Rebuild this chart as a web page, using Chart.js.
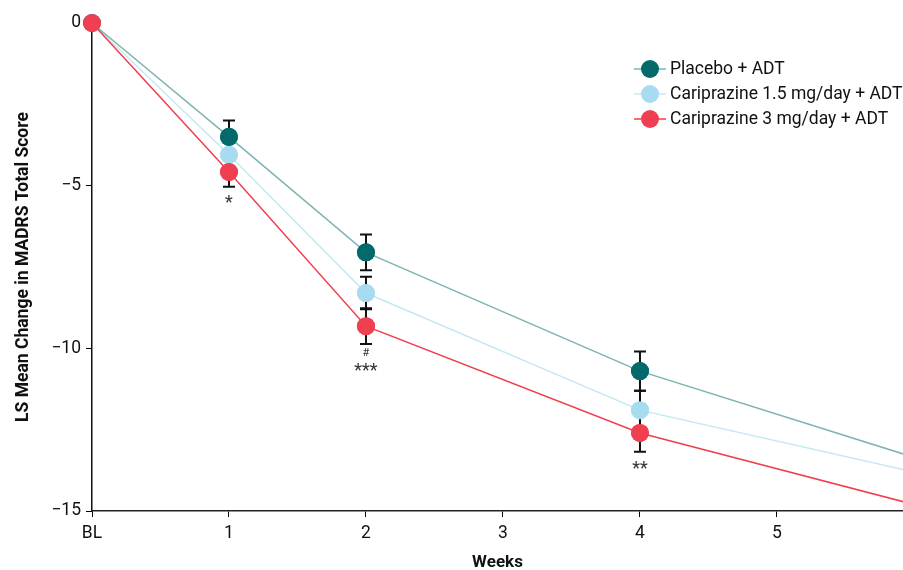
<!DOCTYPE html>
<html lang="en">
<head>
  <meta charset="UTF-8">
  <title>LS Mean Change in MADRS Total Score</title>
  <script src="https://cdn.jsdelivr.net/npm/chart.js"></script>
  <style>
    html, body {
      margin: 0;
      padding: 0;
      background: #fff;
    }
    canvas {
      display: block;
    }
  </style>
</head>
<body>
  <canvas id="madrsChart" width="903" height="570"></canvas>

  <script>
    // weeks (0 = baseline); week 6 point runs off the right edge
    const weeks = [0, 1, 2, 4, 6];
    const placebo = [0, -3.5, -7.05, -10.7, -13.35];
    const cari15 = [0, -4.05, -8.3, -11.9, -13.8];
    const cari3 = [0, -4.58, -9.32, -12.6, -14.8];

    // standard errors (null = none drawn)
    const placeboErr = [null, 0.5, 0.55, 0.6, null];
    const cari15Err = [null, 0.5, 0.5, 0.6, null];
    const cari3Err = [null, 0.45, 0.55, 0.58, null];

    const xTicks = [0, 1, 2, 3, 4, 5];
    const yTicks = [0, -5, -10, -15];

    // significance marks below a point: [series index, point index, text, offset px]
    const marks = [
      [2, 1, '*', 31],
      [2, 2, '#', 27],
      [2, 2, '***', 45],
      [2, 3, '**', 37]
    ];

    const seriesNames = ['Placebo + ADT', 'Cariprazine 1.5 mg/day + ADT', 'Cariprazine 3 mg/day + ADT'];
    const pointColors = ['#03696a', '#a7dcf0', '#f03f50'];
    const lineColors = ['#7fb3b3', '#c4e8f4', '#f03f50'];
    const errors = [placeboErr, cari15Err, cari3Err];
    const drawOrder = [1, 0, 2]; // light blue at the back

    const FONT = 'Roboto, "Liberation Sans", sans-serif';

    const extras = {
      id: 'extras',
      afterDraw(chart) {
        const ctx = chart.ctx;
        const x = chart.scales.x, y = chart.scales.y;
        ctx.save();
        // error bars
        ctx.strokeStyle = '#111';
        ctx.lineWidth = 2;
        errors.forEach((errs, s) => {
          const vals = chart.data.datasets[s].data;
          errs.forEach((e, i) => {
            if (e == null) return;
            const px = x.getPixelForValue(vals[i].x);
            const top = y.getPixelForValue(vals[i].y + e);
            const bot = y.getPixelForValue(vals[i].y - e);
            ctx.beginPath();
            ctx.moveTo(px, top); ctx.lineTo(px, bot);
            ctx.moveTo(px - 6, top); ctx.lineTo(px + 6, top);
            ctx.moveTo(px - 6, bot); ctx.lineTo(px + 6, bot);
            ctx.stroke();
          });
        });
        // redraw points on top of error bars
        drawOrder.forEach(s => {
          chart.data.datasets[s].data.forEach((p, i) => {
            if (errors[s][i] == null) return;
            const px = x.getPixelForValue(p.x), py = y.getPixelForValue(p.y);
            ctx.fillStyle = pointColors[s];
            ctx.beginPath();
            ctx.arc(px, py, 9, 0, Math.PI * 2);
            ctx.fill();
          });
        });
        // significance marks
        ctx.fillStyle = '#333';
        ctx.textAlign = 'center';
        ctx.textBaseline = 'middle';
        marks.forEach(([s, i, txt, off]) => {
          const p = chart.data.datasets[s].data[i];
          ctx.font = (txt === '#' ? '11px ' : '18px ') + FONT;
          ctx.fillText(txt, x.getPixelForValue(p.x), y.getPixelForValue(p.y) + off);
        });
        // legend
        ctx.textAlign = 'left';
        ctx.font = '17.5px ' + FONT;
        seriesNames.forEach((name, s) => {
          const ly = 69 + s * 25;
          ctx.strokeStyle = lineColors[s];
          ctx.lineWidth = 1.5;
          ctx.beginPath();
          ctx.moveTo(634, ly); ctx.lineTo(666, ly);
          ctx.stroke();
          ctx.fillStyle = pointColors[s];
          ctx.beginPath();
          ctx.arc(650, ly, 9, 0, Math.PI * 2);
          ctx.fill();
          ctx.fillStyle = '#111';
          ctx.fillText(name, 670, ly + 1);
        });
        ctx.restore();
      }
    };

    const toPoints = vals => vals.map((v, i) => ({ x: weeks[i], y: v }));

    const ctx = document.getElementById('madrsChart').getContext('2d');
    new Chart(ctx, {
      type: 'line',
      data: {
        datasets: [placebo, cari15, cari3].map((vals, s) => ({
          label: seriesNames[s],
          data: toPoints(vals),
          order: 3 - drawOrder.indexOf(s),
          borderColor: lineColors[s],
          backgroundColor: pointColors[s],
          pointBackgroundColor: pointColors[s],
          pointBorderWidth: 0,
          pointRadius: 9,
          borderWidth: 1.5,
          tension: 0,
          clip: { left: 12, top: 12, right: 0, bottom: 0 }
        }))
      },
      options: {
        responsive: false,
        animation: false,
        devicePixelRatio: 1,
        layout: { autoPadding: false, padding: { top: 23, right: 0, left: 0, bottom: 0 } },
        plugins: {
          legend: { display: false },
          tooltip: { enabled: false }
        },
        scales: {
          x: {
            type: 'linear',
            min: 0,
            max: 5.92,
            afterBuildTicks: s => { s.ticks = xTicks.map(v => ({ value: v })); },
            afterFit: s => { s.height = 59; },
            grid: { drawOnChartArea: false, drawTicks: true, tickLength: 6, color: '#000' },
            border: { color: '#222', width: 1.5 },
            ticks: {
              color: '#111',
              padding: 6,
              maxRotation: 0,
              font: { size: 17.5, family: FONT },
              callback: v => v === 0 ? 'BL' : String(v)
            },
            title: {
              display: true,
              text: 'Weeks',
              color: '#111',
              padding: { top: 4, bottom: -3 },
              font: { size: 17, weight: 'bold', family: FONT }
            }
          },
          y: {
            min: -15,
            max: 0,
            afterBuildTicks: s => { s.ticks = yTicks.map(v => ({ value: v })); },
            afterFit: s => { s.width = 92; },
            grid: { drawOnChartArea: false, drawTicks: true, tickLength: 6, color: '#000' },
            border: { color: '#111', width: 1.5 },
            ticks: {
              color: '#111',
              padding: 5,
              font: { size: 17.5, family: FONT },
              callback: v => v < 0 ? '\u2212' + Math.abs(v) : String(v)
            },
            title: {
              display: true,
              text: 'LS Mean Change in MADRS Total Score',
              color: '#111',
              padding: { top: 13, bottom: 8 },
              font: { size: 17.5, weight: 'bold', family: FONT }
            }
          }
        }
      },
      plugins: [extras]
    });
  </script>
</body>
</html>
